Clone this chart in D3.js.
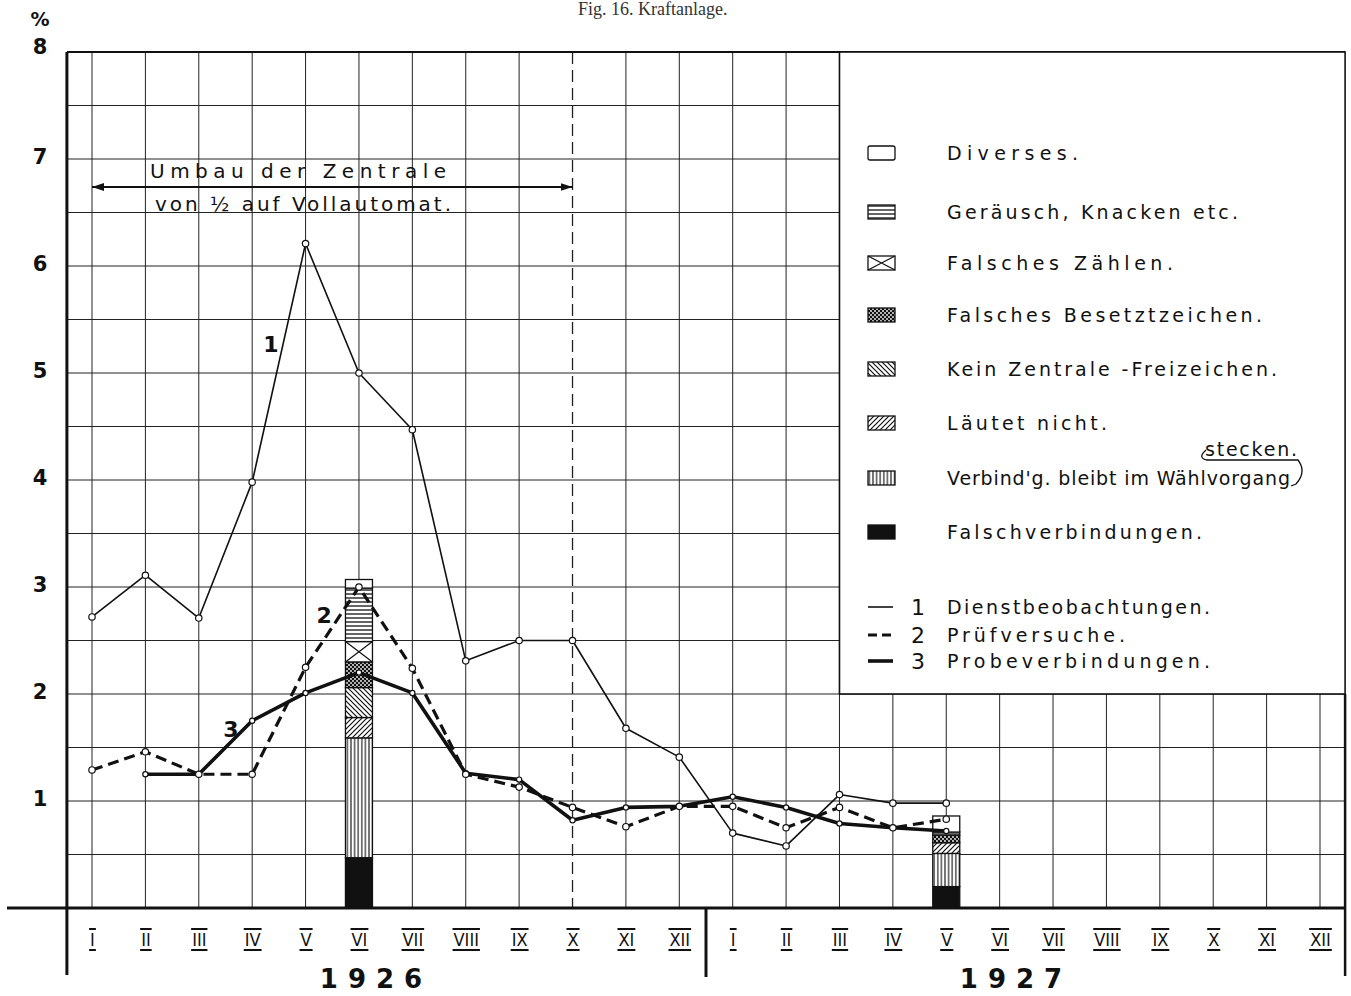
<!DOCTYPE html>
<html>
<head>
<meta charset="utf-8">
<script src="https://cdn.jsdelivr.net/npm/d3@7"></script>
<style>
  body { margin: 0; background: #fff; }
  svg { display: block; }
  .hand { font-family: "DejaVu Sans", sans-serif; fill: #111; }
</style>
</head>
<body>
<div id="chart"></div>
<script>
'use strict';

// month labels, two years side by side
const months = ["I", "II", "III", "IV", "V", "VI", "VII", "VIII", "IX", "X", "XI", "XII"];
const years = ["1926", "1927"];
const yTicks = [1, 2, 3, 4, 5, 6, 7, 8];

// 1 Dienstbeobachtungen (Jan 1926 .. May 1927)
const dienst = [2.72, 3.11, 2.71, 3.98, 6.21, 5.0, 4.47, 2.31, 2.5, 2.5, 1.68, 1.41, 0.7, 0.58, 1.06, 0.98, 0.98];
// 2 Prüfversuche
const pruef = [1.29, 1.46, 1.25, 1.25, 2.25, 3.0, 2.24, 1.25, 1.13, 0.94, 0.76, 0.95, 0.95, 0.75, 0.94, 0.75, 0.83];
// 3 Probeverbindungen (starts in Feb 1926)
const probe = [null, 1.25, 1.25, 1.75, 2.01, 2.2, 2.01, 1.26, 1.2, 0.82, 0.94, 0.95, 1.04, 0.94, 0.79, 0.75, 0.72];

// fault categories, bottom of the bar first
const faultKeys = ["Falschverbindungen.", "Verbind'g. bleibt im Wählvorgang", "Läutet nicht.",
  "Kein Zentrale -Freizeichen.", "Falsches Besetztzeichen.", "Falsches Zählen.",
  "Geräusch, Knacken etc.", "Diverses."];
const barMonths = [5, 16]; // VI 1926, V 1927
const bar1926 = [0.47, 1.12, 0.19, 0.28, 0.24, 0.19, 0.5, 0.08];
const bar1927 = [0.2, 0.31, 0.1, 0, 0.07, 0, 0.03, 0.15];

const lineLegend = ["Dienstbeobachtungen.", "Prüfversuche.", "Probeverbindungen."];

// ---- layout
const W = 1351, H = 996;
const x = d3.scaleLinear().domain([0, 23]).range([92, 1320]);
const y = d3.scaleLinear().domain([0, 8]).range([908, 52]);
const left = x(-0.47), right = x(23.47);
const barW = 27;

const svg = d3.select("#chart").append("svg")
  .attr("width", W).attr("height", H);

// patterns for the bar segments
const defs = svg.append("defs");
function pat(id, size, draw) {
  const p = defs.append("pattern").attr("id", id)
    .attr("patternUnits", "userSpaceOnUse").attr("width", size).attr("height", size);
  p.append("rect").attr("width", size).attr("height", size).attr("fill", "#fff");
  draw(p);
}
pat("horiz", 4, p => p.append("line").attr("x1", 0).attr("x2", 4).attr("y1", 2).attr("y2", 2)
  .attr("stroke", "#111").attr("stroke-width", 1.3));
pat("vert", 3.6, p => p.append("line").attr("x1", 1.8).attr("x2", 1.8).attr("y1", 0).attr("y2", 3.6)
  .attr("stroke", "#111").attr("stroke-width", 1.1));
pat("back", 5, p => p.append("path").attr("d", "M-1,-1L6,6M-1,4L1,6M4,-1L6,1")
  .attr("stroke", "#111").attr("stroke-width", 1.2));
pat("fwd", 5, p => p.append("path").attr("d", "M-1,6L6,-1M-1,1L1,-1M4,6L6,4")
  .attr("stroke", "#111").attr("stroke-width", 1.2));
pat("check", 4, p => {
  p.append("rect").attr("width", 4).attr("height", 4).attr("fill", "#111");
  p.append("circle").attr("cx", 1).attr("cy", 1).attr("r", 0.9).attr("fill", "#fff");
  p.append("circle").attr("cx", 3).attr("cy", 3).attr("r", 0.9).attr("fill", "#fff");
});
const fills = ["#111", "url(#vert)", "url(#fwd)", "url(#back)", "url(#check)", "#fff", "url(#horiz)", "#fff"];

// title at the top edge
svg.append("text").attr("x", 578).attr("y", 15)
  .style("font-family", "Liberation Serif, serif").style("font-size", "18px").attr("fill", "#333")
  .text("Fig. 16. Kraftanlage.");

// ---- grid
const grid = svg.append("g").attr("stroke", "#222").attr("stroke-width", 1);
grid.selectAll("line.h")
  .data(d3.range(0.5, 8, 0.5))
  .enter().append("line")
    .attr("x1", left).attr("x2", right)
    .attr("y1", d => y(d)).attr("y2", d => y(d));
grid.selectAll("line.v")
  .data(d3.range(0, 24))
  .enter().append("line")
    .attr("x1", d => x(d)).attr("x2", d => x(d))
    .attr("y1", y(8)).attr("y2", y(0))
    .attr("stroke-dasharray", d => d === 9 ? "12,6" : null)
    .attr("stroke-width", d => d === 9 ? 1.3 : 1);

// frame
svg.append("line").attr("x1", left).attr("x2", right).attr("y1", y(8)).attr("y2", y(8))
  .attr("stroke", "#111").attr("stroke-width", 2);
svg.append("line").attr("x1", left).attr("x2", left).attr("y1", y(8)).attr("y2", 975)
  .attr("stroke", "#111").attr("stroke-width", 3);
svg.append("line").attr("x1", right).attr("x2", right).attr("y1", y(2)).attr("y2", 976)
  .attr("stroke", "#111").attr("stroke-width", 2.5);
svg.append("line").attr("x1", (x(11) + x(12)) / 2).attr("x2", (x(11) + x(12)) / 2)
  .attr("y1", y(0)).attr("y2", 977).attr("stroke", "#111").attr("stroke-width", 3);

// legend box covers the grid in the upper right
svg.append("rect")
  .attr("x", x(14)).attr("y", y(8)).attr("width", right - x(14)).attr("height", y(2) - y(8))
  .attr("fill", "#fff").attr("stroke", "#111").attr("stroke-width", 1.6);

// ---- annotation: rebuild period
const arrowY = 187;
defs.append("marker").attr("id", "arrow").attr("viewBox", "0 0 12 8")
  .attr("refX", 12).attr("refY", 4).attr("markerWidth", 12).attr("markerHeight", 8)
  .attr("markerUnits", "userSpaceOnUse").attr("orient", "auto-start-reverse")
  .append("path").attr("d", "M0,0L12,4L0,8Z").attr("fill", "#111");
svg.append("line")
  .attr("x1", x(0)).attr("x2", x(9)).attr("y1", arrowY).attr("y2", arrowY)
  .attr("stroke", "#111").attr("stroke-width", 1.8)
  .attr("marker-start", "url(#arrow)").attr("marker-end", "url(#arrow)");
svg.append("text").attr("class", "hand").attr("x", 150).attr("y", 178)
  .attr("textLength", 296).attr("lengthAdjust", "spacing")
  .style("font-size", "20px").text("Umbau der Zentrale");
svg.append("text").attr("class", "hand").attr("x", 155).attr("y", 211)
  .attr("textLength", 296).attr("lengthAdjust", "spacing")
  .style("font-size", "20px").text("von ½ auf Vollautomat.");

// ---- stacked bars
const barRows = [bar1926, bar1927].map((vals, i) => {
  const row = { month: barMonths[i] };
  faultKeys.forEach((k, j) => row[k] = vals[j]);
  return row;
});
const stacked = d3.stack().keys(faultKeys)(barRows);
const bars = svg.append("g");
stacked.forEach((layer, li) => {
  layer.forEach(seg => {
    if (seg[1] - seg[0] <= 0) return;
    const bx = x(seg.data.month) - barW / 2;
    const top = y(seg[1]), bot = y(seg[0]);
    bars.append("rect")
      .attr("x", bx).attr("y", top).attr("width", barW).attr("height", bot - top)
      .attr("fill", fills[li]).attr("stroke", "#111").attr("stroke-width", 1.3);
    if (li === 5) { // Falsches Zählen: crossed box
      bars.append("path")
        .attr("d", `M${bx},${top}L${bx + barW},${bot}M${bx + barW},${top}L${bx},${bot}`)
        .attr("stroke", "#111").attr("stroke-width", 1.2);
    }
  });
});

// ---- baseline
svg.append("line").attr("x1", 7).attr("x2", right).attr("y1", y(0)).attr("y2", y(0))
  .attr("stroke", "#111").attr("stroke-width", 3);

// ---- lines
function drawSeries(data, opts) {
  const pts = data.map((v, i) => ({ i, v })).filter(d => d.v !== null);
  svg.append("path").datum(pts)
    .attr("fill", "none").attr("stroke", "#111")
    .attr("stroke-width", opts.width)
    .attr("stroke-dasharray", opts.dash)
    .attr("stroke-linejoin", "round")
    .attr("d", d3.line().x(d => x(d.i)).y(d => y(d.v)));
  svg.append("g").selectAll("circle").data(pts).enter().append("circle")
    .attr("cx", d => x(d.i)).attr("cy", d => y(d.v)).attr("r", opts.r)
    .attr("fill", "#fff").attr("stroke", "#111").attr("stroke-width", 1.2);
}
drawSeries(dienst, { width: 1.6, dash: null, r: 3.2 });
drawSeries(probe, { width: 3.6, dash: null, r: 2.6 });
drawSeries(pruef, { width: 3.2, dash: "11,6", r: 3.2 });

// series numbers on the curves
const curveLabels = [["1", 3.35, 5.2], ["2", 4.35, 2.66], ["3", 2.6, 1.6]];
svg.selectAll("text.cl").data(curveLabels).enter().append("text")
  .attr("class", "hand")
  .attr("x", d => x(d[1])).attr("y", d => y(d[2]))
  .attr("text-anchor", "middle")
  .style("font-size", "22px").style("font-weight", "bold")
  .text(d => d[0]);

// ---- y axis labels
const yAxis = svg.append("g")
  .attr("transform", `translate(40,0)`)
  .call(d3.axisLeft(y).tickValues(yTicks).tickSize(0).tickPadding(0).tickFormat(d3.format("d")));
yAxis.select(".domain").remove();
yAxis.selectAll("text")
  .attr("text-anchor", "middle").attr("dy", "0.2em")
  .style("font-family", "DejaVu Sans, sans-serif").style("font-size", "21px")
  .style("font-weight", "bold").attr("fill", "#111");
yAxis.selectAll(".tick").filter(d => d === 8).select("text").attr("dy", "0.05em");
svg.append("text").attr("x", 40).attr("y", 26).attr("text-anchor", "middle")
  .style("font-family", "DejaVu Sans, sans-serif").style("font-size", "19px").style("font-weight", "bold")
  .attr("fill", "#111").text("%");

// ---- month labels with over- and underline
const monthIdx = d3.range(0, 24);
const xAxis = svg.append("g")
  .attr("transform", `translate(0,${y(0)})`)
  .call(d3.axisBottom(x).tickValues(monthIdx).tickSize(0).tickPadding(0)
    .tickFormat(d => months[d % 12]));
xAxis.select(".domain").remove();
xAxis.selectAll("text")
  .attr("y", 38).attr("dy", null)
  .style("font-family", "DejaVu Sans Condensed, DejaVu Sans, sans-serif")
  .style("font-size", "18px").attr("fill", "#111");
xAxis.selectAll(".tick").each(function () {
  const t = d3.select(this).select("text");
  const w = t.node().getComputedTextLength();
  [21, 42].forEach(yy => d3.select(this).append("line")
    .attr("x1", -w / 2 - 1).attr("x2", w / 2 + 1).attr("y1", yy).attr("y2", yy)
    .attr("stroke", "#111").attr("stroke-width", 2));
});

// years
svg.selectAll("text.year").data(years).enter().append("text")
  .attr("x", (d, i) => i === 0 ? 376 : 1016).attr("y", 988)
  .attr("text-anchor", "middle")
  .style("font-family", "DejaVu Sans, sans-serif").style("font-size", "26px")
  .style("font-weight", "bold").style("letter-spacing", "10px").attr("fill", "#111")
  .text(d => d);

// ---- legend: fault categories (top to bottom)
const legendOrder = d3.range(faultKeys.length).reverse();
const legendLabels = ["Diverses.", "Geräusch, Knacken etc.", "Falsches Zählen.", "Falsches Besetztzeichen.",
  "Kein Zentrale -Freizeichen.", "Läutet nicht.", "Verbind'g. bleibt im Wählvorgang", "Falschverbindungen."];
const legendWidths = [131, 291, 226, 315, 330, 160, 343, 255];
const legendY = [153, 212, 263, 315, 369, 423, 478, 532];
const lg = svg.append("g");
legendOrder.forEach((k, r) => {
  const cy = legendY[r];
  lg.append("rect").attr("x", 868).attr("y", cy - 7).attr("width", 27).attr("height", 14)
    .attr("rx", k === 7 ? 2 : 0)
    .attr("fill", fills[k]).attr("stroke", "#111").attr("stroke-width", 1.3);
  if (k === 5) {
    lg.append("path").attr("d", `M868,${cy - 7}L895,${cy + 7}M895,${cy - 7}L868,${cy + 7}`)
      .attr("stroke", "#111").attr("stroke-width", 1.3);
  }
  lg.append("text").attr("class", "hand").attr("x", 947).attr("y", cy + 7)
    .attr("textLength", legendWidths[r]).attr("lengthAdjust", "spacing")
    .style("font-size", "19px").text(legendLabels[r]);
});
// the "stecken." continuation above the line
lg.append("text").attr("class", "hand").attr("x", 1205).attr("y", 456)
  .attr("textLength", 92).attr("lengthAdjust", "spacing")
  .style("font-size", "19px").text("stecken.");
lg.append("path")
  .attr("d", "M1206,450 Q1197,458 1207,460 L1298,460 Q1307,472 1296,484 L1291,486")
  .attr("fill", "none").attr("stroke", "#111").attr("stroke-width", 1.3);

// ---- legend: the three curves
const lineLegY = [607, 635, 661];
const lineStyles = [{ w: 1.6, dash: null }, { w: 3.2, dash: "9,5" }, { w: 3.6, dash: null }];
const lineWidths = [263, 178, 263];
lineLegend.forEach((name, i) => {
  lg.append("line").attr("x1", 868).attr("x2", 893).attr("y1", lineLegY[i]).attr("y2", lineLegY[i])
    .attr("stroke", "#111").attr("stroke-width", lineStyles[i].w)
    .attr("stroke-dasharray", lineStyles[i].dash);
  lg.append("text").attr("class", "hand").attr("x", 918).attr("y", lineLegY[i] + 8)
    .attr("text-anchor", "middle").style("font-size", "22px").text(String(i + 1));
  lg.append("text").attr("class", "hand").attr("x", 947).attr("y", lineLegY[i] + 7)
    .attr("textLength", lineWidths[i]).attr("lengthAdjust", "spacing")
    .style("font-size", "19px").text(name);
});
</script>
</body>
</html>
